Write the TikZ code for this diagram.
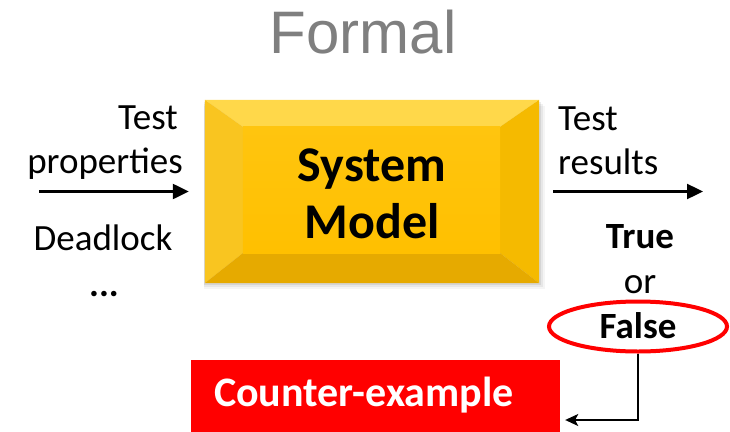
\documentclass[tikz,border=0pt]{standalone}
\usepackage{fontspec}
\setmainfont{Carlito}
\newfontfamily\titlefont{Liberation Sans}
\usetikzlibrary{arrows.meta,shapes.geometric}

\definecolor{goldface}{HTML}{FFC000}
\definecolor{goldtop}{HTML}{FFD84A}
\definecolor{goldleft}{HTML}{F9C520}
\definecolor{goldright}{HTML}{F5BA00}
\definecolor{goldbottom}{HTML}{E6AA00}
\definecolor{alertred}{HTML}{FF0000}
\definecolor{titlegray}{HTML}{7F7F7F}

\tikzset{
  label/.style={inner sep=0pt, font=\fontsize{37}{37}\selectfont},
  boldlabel/.style={inner sep=0pt, font=\bfseries\fontsize{37}{37}\selectfont},
  flow/.style={line width=2.4pt, -{Triangle[length=16pt,width=15pt]}},
  back/.style={line width=1.3pt, -{Stealth[length=13pt,width=12pt,inset=3pt]}},
}

\begin{document}
\begin{tikzpicture}[x=1pt,y=-1pt]
\useasboundingbox (0,0) rectangle (730,431);

% title
\node[inner sep=0pt, anchor=base, text=titlegray,
      font=\titlefont\fontsize{60}{60}\selectfont] (title) at (363,53) {Formal};

% bevelled system box with a soft drop shadow
\node[minimum width=334pt, minimum height=183pt, inner sep=0pt] (sysbox) at (372,191.5) {};
\foreach \s/\o in {6/0.04,4/0.06,2/0.08}
  \fill[black, opacity=\o] ([xshift=-1pt,yshift=-\s pt]sysbox.north west) rectangle ([xshift=\s pt,yshift=-\s pt]sysbox.south east);
\coordinate (in-nw) at ([xshift=38pt,yshift=-27pt]sysbox.north west);
\coordinate (in-ne) at ([xshift=-39pt,yshift=-27pt]sysbox.north east);
\coordinate (in-sw) at ([xshift=38pt,yshift=30pt]sysbox.south west);
\coordinate (in-se) at ([xshift=-39pt,yshift=30pt]sysbox.south east);
\fill[goldtop] (sysbox.north west) -- (sysbox.north east) -- (in-ne) -- (in-nw) -- cycle;
\fill[goldleft] (sysbox.north west) -- (in-nw) -- (in-sw) -- (sysbox.south west) -- cycle;
\fill[goldright] (sysbox.north east) -- (sysbox.south east) -- (in-se) -- (in-ne) -- cycle;
\fill[goldbottom] (sysbox.south west) -- (in-sw) -- (in-se) -- (sysbox.south east) -- cycle;
\shade[top color=goldface!80!goldtop, bottom color=goldface] (in-nw) rectangle (in-se);
\node[inner sep=0pt, align=center, font=\bfseries\fontsize{50}{57}\selectfont] (sys) at (372,194) {System\\Model};

% inputs
\node[label, anchor=base east] (testL) at (178,129) {Test};
\node[label, anchor=base east] (propL) at (183,173) {properties};
\node[label, anchor=base] (dead) at (103,250) {Deadlock};
\node[label, anchor=base] (dots) at (104,296) {\bfseries ...};
\coordinate (inStart) at (39,191.5);
\draw[flow] (inStart) -- ([xshift=-16pt]sysbox.west);

% outputs
\node[label, anchor=base west] (testR) at (558,130) {Test};
\node[label, anchor=base west] (resR) at (558,174) {results};
\coordinate (outEnd) at (703,191.5);
\draw[flow] ([xshift=14pt]sysbox.east) -- (outEnd);
\node[boldlabel, anchor=base] (true) at (640,248) {True};
\node[label, anchor=base] (or) at (640,293) {or};
\node[boldlabel, anchor=base] (false) at (638,338) {False};
\node[draw=alertred, line width=4pt, ellipse, minimum width=178pt, minimum height=50pt, inner sep=0pt] (ring) at (638,326.5) {};

% counter-example
\node[fill=alertred, minimum width=369pt, minimum height=90pt, inner sep=0pt] (cex) at (375.5,405) {};
\node[inner sep=0pt, anchor=base, text=white, font=\bfseries\fontsize{42}{42}\selectfont] (cexText) at (364,406) {Counter-example};
\coordinate (bend) at (ring.south |- 0,420);
\draw[back] (ring.south) -- (bend) -- ([xshift=5pt]cex.east |- bend);
\end{tikzpicture}
\end{document}
